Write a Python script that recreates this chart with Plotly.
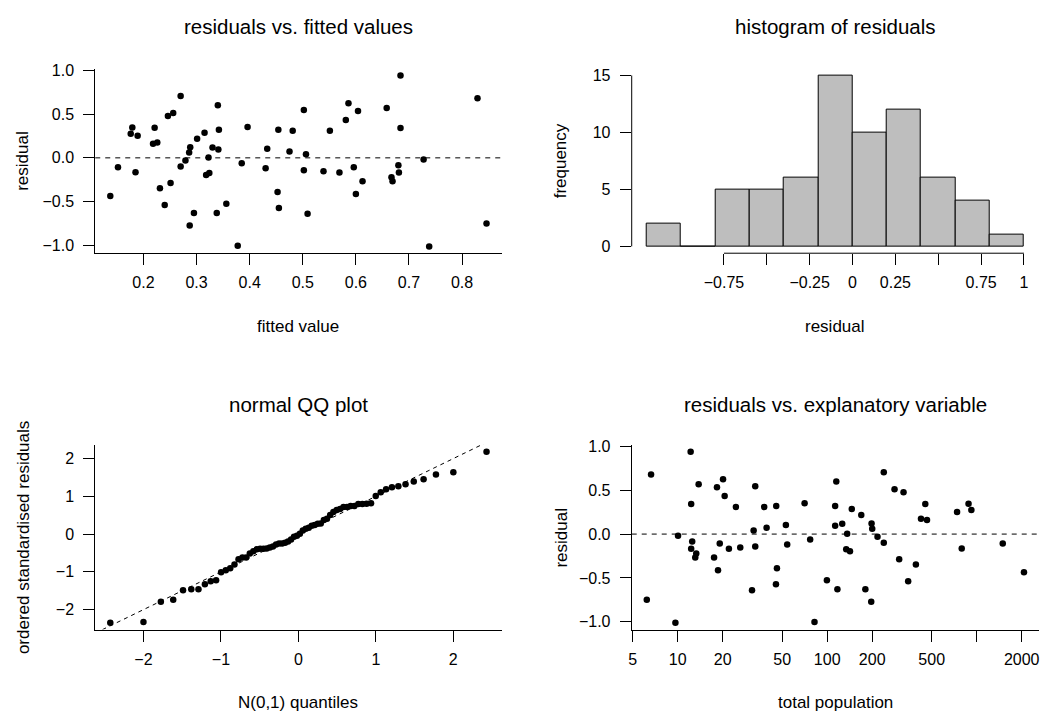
import numpy as np
import plotly.graph_objects as go
from statistics import NormalDist

# ---------------- data (one entry per observation) ----------------
fitted_values = [0.684, 0.270, 0.829, 0.586, 0.340, 0.658, 0.502, 0.604, 0.256, 0.246,
                 0.581, 0.396, 0.179, 0.221, 0.684, 0.342, 0.454, 0.481, 0.551, 0.315,
                 0.176, 0.189, 0.301, 0.226, 0.218, 0.288, 0.330, 0.433, 0.341, 0.475,
                 0.286, 0.506, 0.3225, 0.7275, 0.279, 0.385, 0.680, 0.270, 0.152, 0.596,
                 0.430, 0.502, 0.539, 0.185, 0.569, 0.681, 0.324, 0.318, 0.667, 0.6125,
                 0.669, 0.251, 0.231, 0.4525, 0.600, 0.1375, 0.356, 0.240, 0.455, 0.295,
                 0.338, 0.509, 0.846, 0.287, 0.3775, 0.738]

residuals = [0.94, 0.705, 0.68, 0.624, 0.60, 0.568, 0.545, 0.534, 0.512, 0.478,
             0.433, 0.353, 0.346, 0.344, 0.342, 0.32, 0.32, 0.308, 0.308, 0.286,
             0.275, 0.252, 0.218, 0.175, 0.162, 0.12, 0.118, 0.105, 0.094, 0.073,
             0.06, 0.04, 0.004, -0.018, -0.03, -0.062, -0.085, -0.098, -0.107, -0.107,
             -0.12, -0.141, -0.154, -0.163, -0.166, -0.166, -0.173, -0.197, -0.22, -0.267,
             -0.267, -0.286, -0.346, -0.389, -0.412, -0.436, -0.525, -0.538, -0.572, -0.628,
             -0.628, -0.639, -0.75, -0.772, -1.003, -1.01]

total_population = [12.2, 239, 6.63, 20.1, 115, 13.8, 33.0, 18.3, 282, 324,
                    20.6, 70.6, 882, 12.3, 453, 45.6, 113, 24.5, 37.9, 146,
                    921, 739, 169, 424, 465, 198, 126, 52.9, 113, 39.3,
                    200, 32.2, 136, 10.05, 217, 76.9, 12.5, 239, 19.1, 1494,
                    54.0, 33.0, 26.2, 794, 12.3, 22.0, 134, 142, 13.3, 13.1,
                    17.5, 303, 392, 46.1, 18.6, 2071, 99.5, 348, 45.4, 117,
                    180, 31.4, 6.21, 197, 82.2, 9.65]

# histogram of residuals
hist_bin_edges = [-1.2, -1.0, -0.8, -0.6, -0.4, -0.2, 0.0, 0.2, 0.4, 0.6, 0.8, 1.0]
hist_counts = [2, 0, 5, 5, 6, 15, 10, 12, 6, 4, 1]

# tick labels
fit_x_ticks = [0.2, 0.3, 0.4, 0.5, 0.6, 0.7, 0.8]
fit_x_labels = ["0.2", "0.3", "0.4", "0.5", "0.6", "0.7", "0.8"]
resid_ticks = [-1.0, -0.5, 0.0, 0.5, 1.0]
resid_labels = ["\u22121.0", "\u22120.5", "0.0", "0.5", "1.0"]
hist_x_ticks = [-0.75, -0.5, -0.25, 0, 0.25, 0.5, 0.75, 1]
hist_x_labels = ["\u22120.75", "", "\u22120.25", "0", "0.25", "", "0.75", "1"]
hist_y_ticks = [0, 5, 10, 15]
hist_y_labels = ["0", "5", "10", "15"]
qq_ticks = [-2, -1, 0, 1, 2]
qq_labels = ["\u22122", "\u22121", "0", "1", "2"]
pop_ticks = [5, 10, 20, 50, 100, 200, 500, 1000, 2000]
pop_labels = ["5", "10", "20", "50", "100", "200", "500", "", "2000"]

# ---------------- derived ----------------
res = np.array(residuals)
n = len(res)
sigma = np.sqrt(np.sum(res ** 2) / (n - 2))
std_sorted = np.sort(res / sigma)
nd = NormalDist()
qq_theory = np.array([nd.inv_cdf((i - 0.5) / n) for i in range(1, n + 1)])

edges = np.array(hist_bin_edges)
hist_centers = (edges[:-1] + edges[1:]) / 2
hist_widths = np.diff(edges)


def rrange(lo, hi, f=0.04):
    d = hi - lo
    return [lo - f * d, hi + f * d]


W, H = 1056, 728
FONT = "Liberation Sans, Arial, sans-serif"


def px(x):
    return x / W


def py(y):
    return 1 - y / H


# plot regions in pixels
LX0, LX1 = 92.5, 500.0
RX0, RX1 = 630.5, 1039.0
TY0, TY1 = 62.4, 249.3
BY0, BY1 = 443.3, 630.3

fig = go.Figure()

mk = dict(color="black", size=6.5)
fig.add_trace(go.Scatter(x=fitted_values, y=residuals, mode="markers", marker=mk,
                         xaxis="x", yaxis="y", showlegend=False))
fig.add_trace(go.Bar(x=hist_centers, y=hist_counts, width=hist_widths,
                     marker=dict(color="#BEBEBE", line=dict(color="black", width=1)),
                     xaxis="x2", yaxis="y2", showlegend=False))
fig.add_trace(go.Scatter(x=qq_theory, y=std_sorted, mode="markers", marker=mk,
                         xaxis="x3", yaxis="y3", showlegend=False))
fig.add_trace(go.Scatter(x=total_population, y=residuals, mode="markers", marker=mk,
                         xaxis="x4", yaxis="y4", showlegend=False))

tickfont = dict(family=FONT, size=16, color="black")
common = dict(showgrid=False, zeroline=False, ticks="outside", ticklen=11, tickwidth=1,
              tickcolor="black", tickfont=tickfont, linecolor="black", linewidth=1,
              tickmode="array", fixedrange=True)

res_range = rrange(min(residuals), max(residuals))
fit_range = rrange(min(fitted_values), max(fitted_values))
qx_range = rrange(qq_theory.min(), qq_theory.max())
qy_range = rrange(std_sorted.min(), std_sorted.max())
lp = np.log10(total_population)
pop_range = rrange(lp.min(), lp.max())
hx_range = rrange(edges[0], edges[-1])
hy_range = rrange(0, max(hist_counts))

XS = 4  # x tick label standoff
YS = 6

fig.update_layout(
    width=W, height=H, autosize=False,
    margin=dict(l=0, r=0, t=0, b=0),
    paper_bgcolor="white", plot_bgcolor="white",
    bargap=0,
    xaxis=dict(domain=[px(LX0), px(LX1)], anchor="y", range=fit_range,
               tickvals=fit_x_ticks, ticktext=fit_x_labels, showline=True,
               ticklabelstandoff=XS, **common),
    yaxis=dict(domain=[py(TY1), py(TY0)], anchor="x", range=res_range,
               tickvals=resid_ticks, ticktext=resid_labels, showline=True,
               ticklabelstandoff=YS, **common),
    xaxis2=dict(domain=[px(RX0), px(RX1)], anchor="y2", range=hx_range,
                tickvals=hist_x_ticks, ticktext=hist_x_labels, showline=False,
                ticklabelstandoff=XS, **common),
    yaxis2=dict(domain=[py(TY1), py(TY0)], anchor="x2", range=hy_range,
                tickvals=hist_y_ticks, ticktext=hist_y_labels, showline=False,
                ticklabelstandoff=YS, **common),
    xaxis3=dict(domain=[px(LX0), px(LX1)], anchor="y3", range=qx_range,
                tickvals=qq_ticks, ticktext=qq_labels, showline=True,
                ticklabelstandoff=XS, **common),
    yaxis3=dict(domain=[py(BY1), py(BY0)], anchor="x3", range=qy_range,
                tickvals=qq_ticks, ticktext=qq_labels, showline=True,
                ticklabelstandoff=YS, **common),
    xaxis4=dict(domain=[px(RX0), px(RX1)], anchor="y4", type="log", range=pop_range,
                tickvals=pop_ticks, ticktext=pop_labels, showline=True,
                ticklabelstandoff=XS, **common),
    yaxis4=dict(domain=[py(BY1), py(BY0)], anchor="x4", range=res_range,
                tickvals=resid_ticks, ticktext=resid_labels, showline=True,
                ticklabelstandoff=YS, **common),
)

dash = dict(color="black", width=1, dash="5px,5px")
shapes = [
    dict(type="line", xref="x domain", yref="y", x0=0, x1=1, y0=0, y1=0, line=dash),
    dict(type="line", xref="x4 domain", yref="y4", x0=0, x1=1, y0=0, y1=0, line=dash),
    dict(type="line", xref="x3", yref="y3", x0=qx_range[0], x1=qx_range[1],
         y0=qx_range[0], y1=qx_range[1], line=dict(color="black", width=1, dash="4px,4px")),
    dict(type="line", xref="x2", yref="y2 domain", x0=min(hist_x_ticks), x1=max(hist_x_ticks),
         y0=0, y1=0, line=dict(color="black", width=1)),
    dict(type="line", xref="x2 domain", yref="y2", x0=0, x1=0, y0=min(hist_y_ticks),
         y1=max(hist_y_ticks), line=dict(color="black", width=1)),
]
fig.update_layout(shapes=shapes)

TS, AS = 20.5, 17
annos = []


def txt(text, x, y, size, angle=0):
    annos.append(dict(text=text, x=px(x), y=py(y), xref="paper", yref="paper",
                      showarrow=False, xanchor="center", yanchor="middle",
                      textangle=angle, font=dict(family=FONT, size=size, color="black")))


LC, RC = (LX0 + LX1) / 2, (RX0 + RX1) / 2
TC, BC = (TY0 + TY1) / 2, (BY0 + BY1) / 2
txt("residuals vs. fitted values", LC, 20, TS)
txt("histogram of residuals", RC, 20, TS)
txt("normal QQ plot", LC, 402, TS)
txt("residuals vs. explanatory variable", RC, 402, TS)
txt("fitted value", LC, 323, AS)
txt("residual", RC, 323, AS)
txt("N(0,1) quantiles", LC, 704, AS)
txt("total population", RC, 704, AS)
txt("residual", 20, TC, AS, -90)
txt("frequency", 560, TC, AS, -90)
txt("ordered standardised residuals", 20, BC, AS, -90)
txt("residual", 560, BC, AS, -90)
fig.update_layout(annotations=annos)

fig.write_html("out.html", config={"displayModeBar": False},
               post_script="document.body.style.margin='0';document.body.style.overflow='hidden';")
